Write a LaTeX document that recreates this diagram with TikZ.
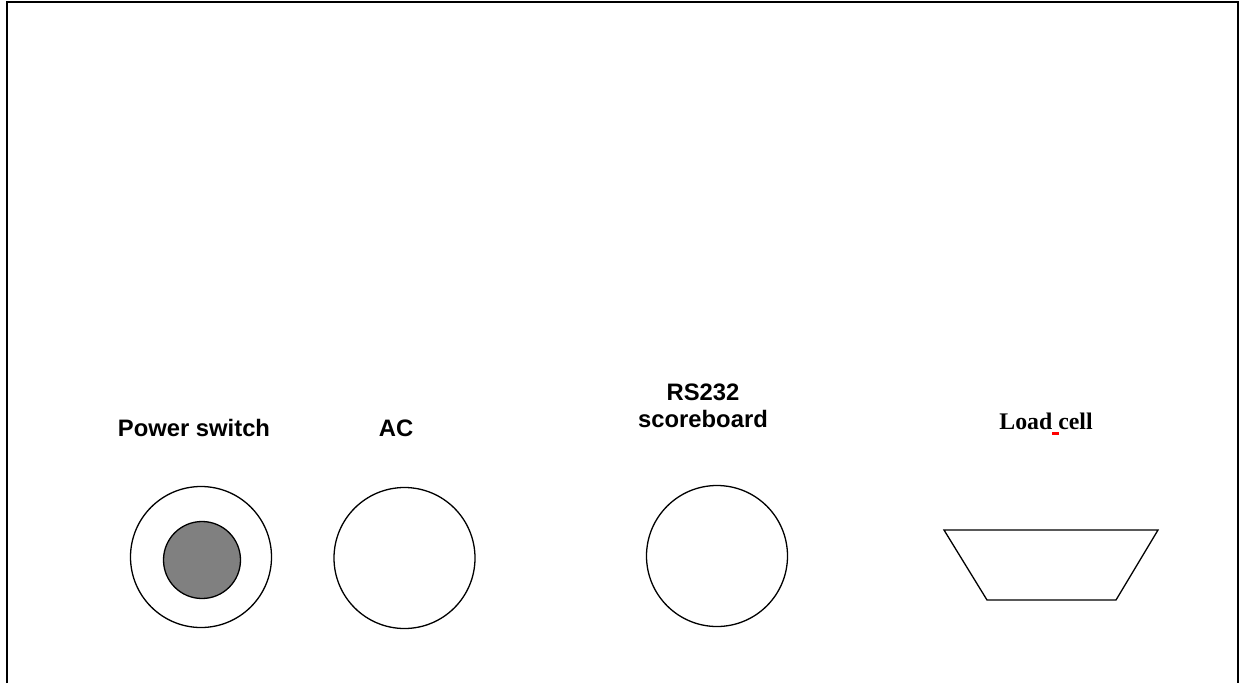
\documentclass[tikz,border=0pt]{standalone}
\usepackage{fontspec}
\setmainfont{Liberation Serif}
\setsansfont{Liberation Sans}
\colorlet{knobcolor}{black!50}
\colorlet{spellcolor}{red}
\tikzset{
    socket/.style={circle, draw, line width=1.3pt, minimum size=141pt, inner sep=0pt},
    panellabel/.style={font=\sffamily\bfseries\fontsize{23.8}{27}\selectfont, inner sep=0pt, anchor=base, align=center},
}

\begin{document}
\begin{tikzpicture}[x=1pt, y=-1pt]
    \useasboundingbox (0,0) rectangle (1253,683);
    % --- panel outline (open at the bottom) ---
    \draw[line width=1.6pt] (7,683) -- (7,2) -- (1238,2) -- (1238,683);
    % --- connectors on the back panel ---
    \node[socket] (switch) at (201,557) {};
    \node[socket, fill=knobcolor, minimum size=77pt] (knob) at (202,560) {};
    \node[socket] (ac) at (404.5,558) {};
    \node[socket] (rs232) at (717,556) {};
    \draw[line width=1.3pt] (944,530) -- (1158,530) -- (1116,600) -- (987,600) -- cycle;
    % --- labels ---
    \node[panellabel] (switchtext) at (194,436.5) {Power switch};
    \node[panellabel] (actext) at (396,436.5) {AC};
    \node[panellabel] (rstext) at (703,427) {RS232\\scoreboard};
    \node[panellabel, font=\rmfamily\bfseries\fontsize{23.8}{27}\selectfont] (loadtext) at (1046,429.3) {Load cell};
    \fill[spellcolor] (1051.7,432.3) rectangle (1059,434.7);
\end{tikzpicture}
\end{document}
